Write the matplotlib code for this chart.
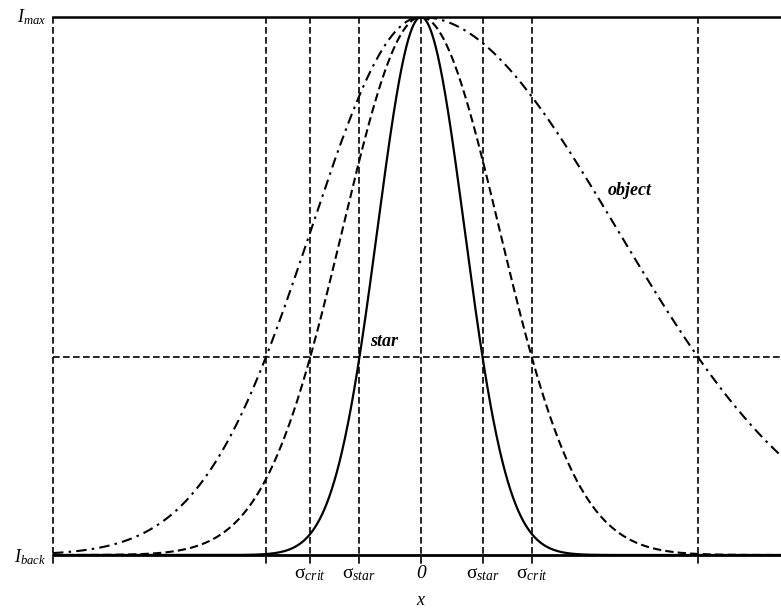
import numpy as np
import matplotlib
matplotlib.use("Agg")
import matplotlib.pyplot as plt

plt.rcParams['mathtext.fontset'] = 'custom'
plt.rcParams['mathtext.rm'] = 'Liberation Serif'
plt.rcParams['mathtext.it'] = 'Liberation Serif:italic'
plt.rcParams['mathtext.bf'] = 'Liberation Serif:bold'
plt.rcParams['font.family'] = ['Liberation Serif', 'DejaVu Serif']

# ---- data (x in units of the star half-width at the threshold level) ----
profile_names = ["star", "crit", "object"]
half_width_left = [1.0, 1.80, 2.52]
half_width_right = [1.0, 1.80, 4.50]
center = 0.0
threshold_level = 0.368
i_back, i_max = 0.0, 1.0
x_min, x_max = -5.98, 5.85
tick_positions = [-1.80, -1.0, 0.0, 1.0, 1.80]
tick_labels = [r"$\mathrm{σ}_{crit}$", r"$\mathrm{σ}_{star}$", "0",
               r"$\mathrm{σ}_{star}$", r"$\mathrm{σ}_{crit}$"]
vline_positions = [x_min, -2.52, -1.80, -1.0, 0.0, 1.0, 1.80, 4.50]

styles = {
    "star": dict(color="black", lw=1.6, linestyle="-"),
    "crit": dict(color="black", lw=1.5, linestyle=(0, (4, 2))),
    "object": dict(color="black", lw=1.5, linestyle=(0, (5, 2.5, 1.2, 2.5))),
}

fig = plt.figure(figsize=(7.81, 6.08), dpi=100)
ax = fig.add_axes([53 / 781, 53 / 608, 728 / 781, 538 / 608])
ax.set_xlim(x_min, x_max)
ax.set_ylim(i_back, i_max)
ax.axis("off")

x = np.linspace(x_min, x_max + 0.5, 2000)
for name, hl, hr in zip(profile_names, half_width_left, half_width_right):
    hw = np.where(x < center, hl, hr)
    y = i_back + (i_max - i_back) * np.exp(-((x - center) / hw) ** 2)
    ax.plot(x, y, clip_on=True, **styles[name])

# vertical dashed reference lines
for xv in vline_positions:
    ax.plot([xv, xv], [i_max, -0.016], color="black", lw=1.2,
            linestyle=(0, (4, 2)), clip_on=False)

# horizontal threshold line
ax.plot([x_min, x_max], [threshold_level, threshold_level], color="black",
        lw=1.2, linestyle=(0, (4, 2)), clip_on=False)

# top and base lines
ax.plot([x_min, x_max], [i_max, i_max], color="black", lw=1.8, clip_on=False)
ax.plot([x_min, x_max], [i_back, i_back], color="black", lw=2.0, clip_on=False)

# labels
ax.text(x_min - 0.12, i_max, r"$I_{max}$", ha="right", va="center", fontsize=13)
ax.text(x_min - 0.12, i_back - 0.004, r"$I_{back}$", ha="right", va="center", fontsize=13)
for xt, lab in zip(tick_positions, tick_labels):
    ax.text(xt, -0.035, lab, ha="center", va="center", fontsize=14,
            style="italic")
ax.text(0.0, -0.085, r"$x$", ha="center", va="center", fontsize=13)

ax.text(-0.83, 0.396, "star", ha="left", va="center", fontsize=13,
        style="italic", weight="bold")
ax.text(3.04, 0.678, "object", ha="left", va="center", fontsize=13,
        style="italic", weight="bold")

fig.savefig("out.png", dpi=100)
